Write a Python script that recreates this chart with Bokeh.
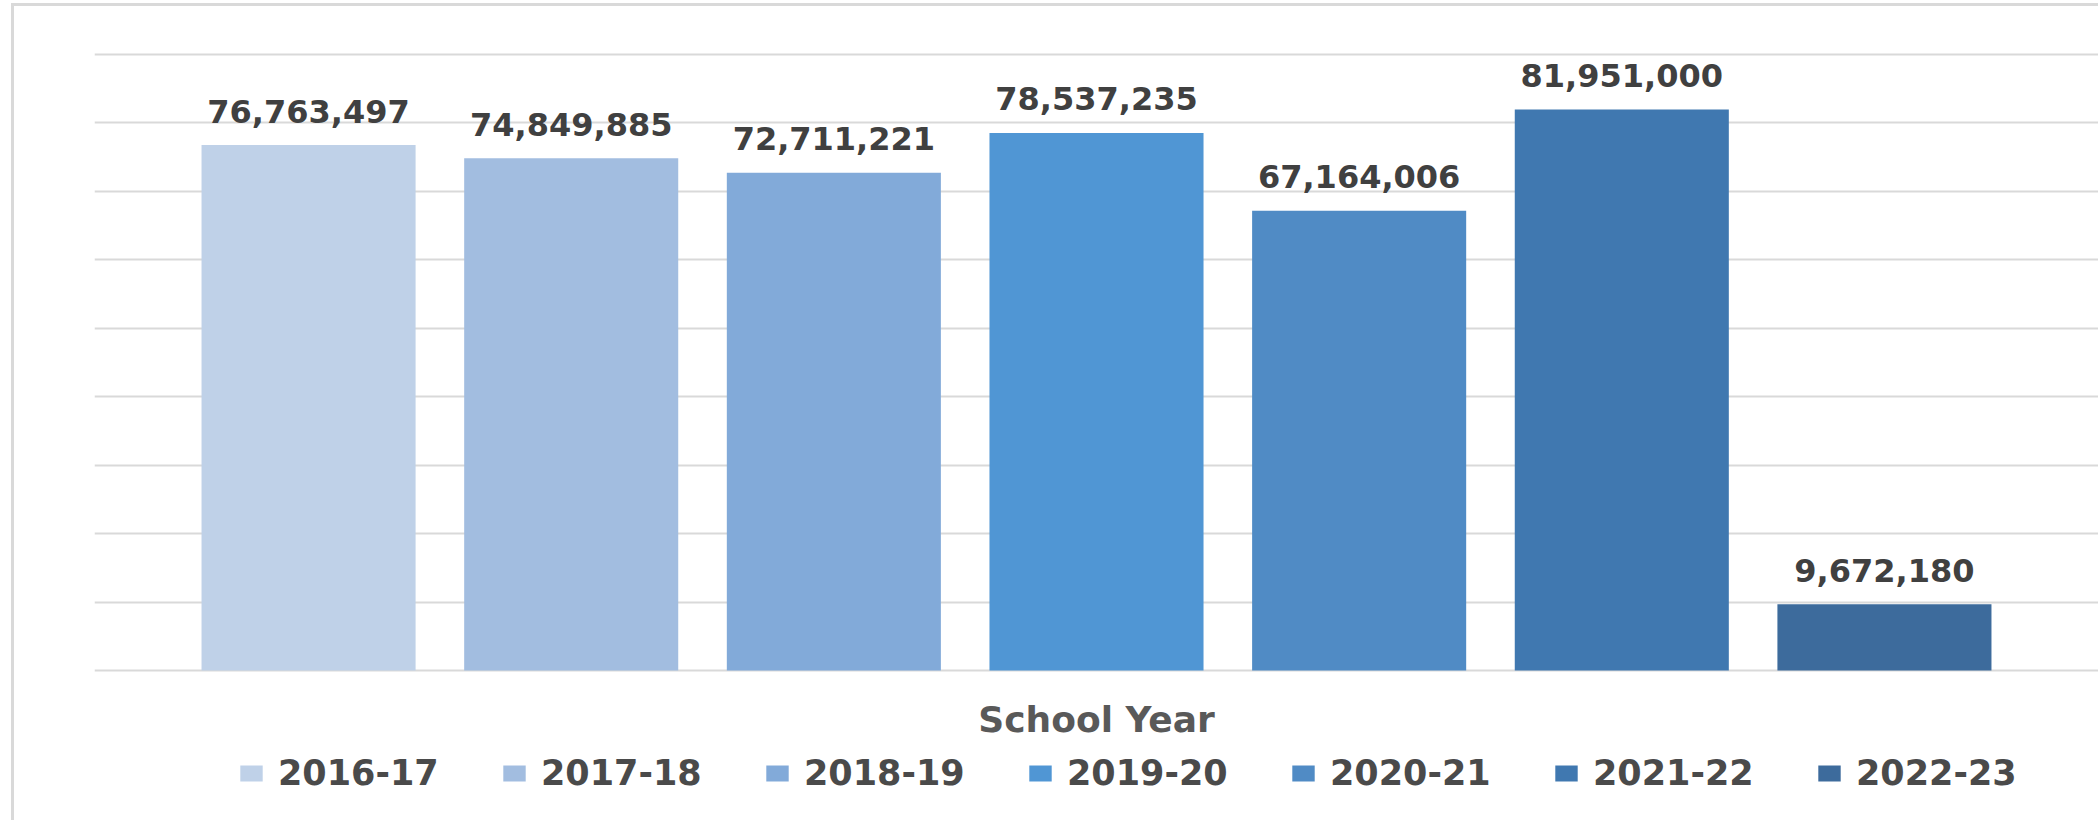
from bokeh.plotting import figure
from bokeh.models import (ColumnDataSource, FactorRange, Range1d, Legend, LegendItem,
                          SingleIntervalTicker, Label)
from bokeh.core.properties import value
from bokeh.embed import file_html
from bokeh.resources import INLINE

# ---- data ----
years = ["2016-17", "2017-18", "2018-19", "2019-20", "2020-21", "2021-22", "2022-23"]
values = [76763497, 74849885, 72711221, 78537235, 67164006, 81951000, 9672180]
colors = ["#bfd1e8", "#a2bde0", "#82aad9", "#5096d4", "#508bc5", "#4078b0", "#3d6b9c"]
labels = [f"{v:,}" for v in values]
axis_title = "School Year"
y_max = 90_000_000
grid_step = 10_000_000

src = ColumnDataSource(dict(year=years, value=values, color=colors, label=labels))

# 0..y_max spans 616 px; the frame continues below 0 to hold title and legend
k = y_max / 616
p = figure(width=2084, height=814, output_backend="svg", toolbar_location=None,
           x_range=FactorRange(factors=years, range_padding=0.315, range_padding_units="absolute"),
           y_range=Range1d(-150 * k, y_max + 4 * k),
           min_border_left=80, min_border_right=0, min_border_top=44, min_border_bottom=0,
           margin=(6, 0, 0, 14),
           styles={"outline": "3px solid #d9d9d9"})

p.outline_line_color = None
p.background_fill_color = "white"
p.border_fill_color = "white"

bars = p.vbar(x="year", top="value", width=0.815, source=src,
              fill_color="color", line_color=None)

p.text(x="year", y="value", text="label", source=src,
       text_align="center", text_baseline="alphabetic", y_offset=-34,
       text_font=value("DejaVu Sans"), text_font_style="bold",
       text_font_size="32px", text_color="#404040")

# grid
p.xaxis.visible = False
p.yaxis.visible = False
p.ygrid.ticker = SingleIntervalTicker(interval=grid_step)
p.ygrid.bounds = (0, y_max)
p.ygrid.grid_line_color = "#d9d9d9"
p.ygrid.grid_line_width = 2
p.xgrid.grid_line_color = None

# axis title (centred under the category axis)
title = Label(x=len(years) / 2, y=-49 * k, text=axis_title,
              text_align="center", text_baseline="alphabetic",
              text_font="DejaVu Sans", text_font_style="bold",
              text_font_size="36px", text_color="#595959")
p.add_layout(title)

# legend
items = [LegendItem(label=y, renderers=[bars], index=i) for i, y in enumerate(years)]
legend = Legend(items=items, orientation="horizontal", location=(143, 27),
                glyph_width=28, glyph_height=20, label_standoff=13, label_width=167,
                spacing=55, padding=0, margin=0,
                label_text_font="DejaVu Sans", label_text_font_style="bold",
                label_text_font_size="35px", label_text_color="#4a4a4a",
                border_line_color=None, background_fill_alpha=0)
p.add_layout(legend, "center")

open("out.html", "w").write(file_html(p, INLINE))
